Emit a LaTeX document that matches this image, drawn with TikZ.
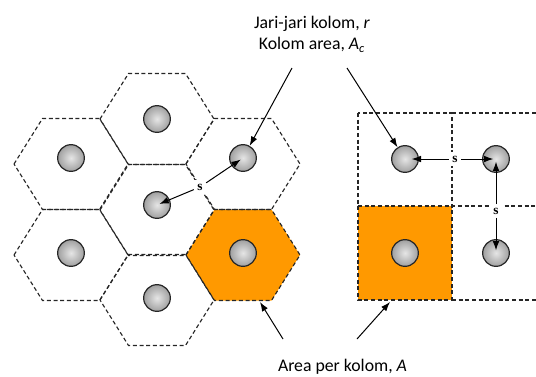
\documentclass[tikz,border=0pt]{standalone}
\usepackage{fontspec}
\setmainfont{Carlito}
\newfontfamily\sfont{Liberation Serif}
\usepackage{tikz}
\usetikzlibrary{arrows.meta}
\definecolor{areaorange}{RGB}{255,153,0}

\begin{document}
\begin{tikzpicture}[x=0.75pt,y=-0.75pt,
    hexline/.style={draw=black!85, line width=0.85pt, dash pattern=on 3pt off 2pt},
    kolom/.style={circle, draw=black!85, line width=0.9pt, minimum size=20pt, inner sep=0pt, inner color=gray!20, outer color=gray!75},
    jarak/.style={fill=white, inner sep=2.5pt, font=\sfont\bfseries\fontsize{10}{10}\selectfont},
    panah/.style={-{Latex[length=7pt,width=5pt]}, line width=0.75pt}]
          \useasboundingbox (0,0) rectangle (536,376);
          % hexagonal pattern
          \fill [areaorange] (186,255) -- (214.5,209.5) -- (271.5,209.5) -- (300,255) -- (271.5,300.5) -- (214.5,300.5) -- cycle;
          \foreach \cx/\cy in {71/164, 71/255, 157/119, 157/210, 157/300, 243/164, 243/255}
            \draw [hexline] ({\cx-57},\cy) -- ({\cx-28.5},{\cy-45.5}) -- ({\cx+28.5},{\cy-45.5}) -- ({\cx+57},\cy) -- ({\cx+28.5},{\cy+45.5}) -- ({\cx-28.5},{\cy+45.5}) -- cycle;
          \foreach \n/\cx/\cy in {h1/71/158, h2/71/253, h3/157/119, h4/157/205, h5/157/298, h6/243/158, h7/243/253}
            \node [kolom] (\n) at (\cx,\cy) {};
          % square pattern
          \fill [areaorange] (358,206) rectangle (452,300);
          \draw [hexline] (358,113) rectangle (452,300);
          \draw [hexline] (358,206) -- (536,206);
          \draw [hexline] (452,113) -- (536,113);
          \draw [hexline] (452,300) -- (536,300);
          \foreach \n/\cx/\cy in {q1/405/159, q2/496/159, q3/405/253, q4/496/253}
            \node [kolom] (\n) at (\cx,\cy) {};
          % spacing
          \node [jarak] (s1) at (200,187) {s};
          \node [jarak] (s2) at (455,159) {s};
          \node [jarak] (s3) at (496,211) {s};
          \draw [panah, shorten >=2pt] (s1) -- (h6.center);
          \draw [panah, shorten >=2pt] (s1) -- (h4.center);
          \draw [panah, shorten >=5pt] (s2) -- (q1.center);
          \draw [panah, shorten >=2pt] (s2) -- (q2.center);
          \draw [panah, shorten >=2pt] (s3) -- (q2.center);
          \draw [panah, shorten >=2pt] (s3) -- (q4.center);
          % labels
          \node [align=center, font=\fontsize{13.3}{15.8}\selectfont] (atas) at (312,34) {Jari-jari kolom, \textit{r}\\Kolom area, \textit{A}\textsubscript{\textit{c}}};
          \node [font=\fontsize{13.3}{15.8}\selectfont] (bawah) at (342.5,367) {Area per kolom, \textit{A}};
          \coordinate (a1) at (292,68);
          \coordinate (a2) at (347,68);
          \coordinate (b1) at (283,339);
          \coordinate (b2) at (357,339);
          \coordinate (b1tip) at (260,302);
          \coordinate (b2tip) at (390,302);
          \draw [panah] (a1) -- (h6);
          \draw [panah] (a2) -- (q1);
          \draw [panah] (b1) -- (b1tip);
          \draw [panah] (b2) -- (b2tip);
        \end{tikzpicture}
\end{document}
